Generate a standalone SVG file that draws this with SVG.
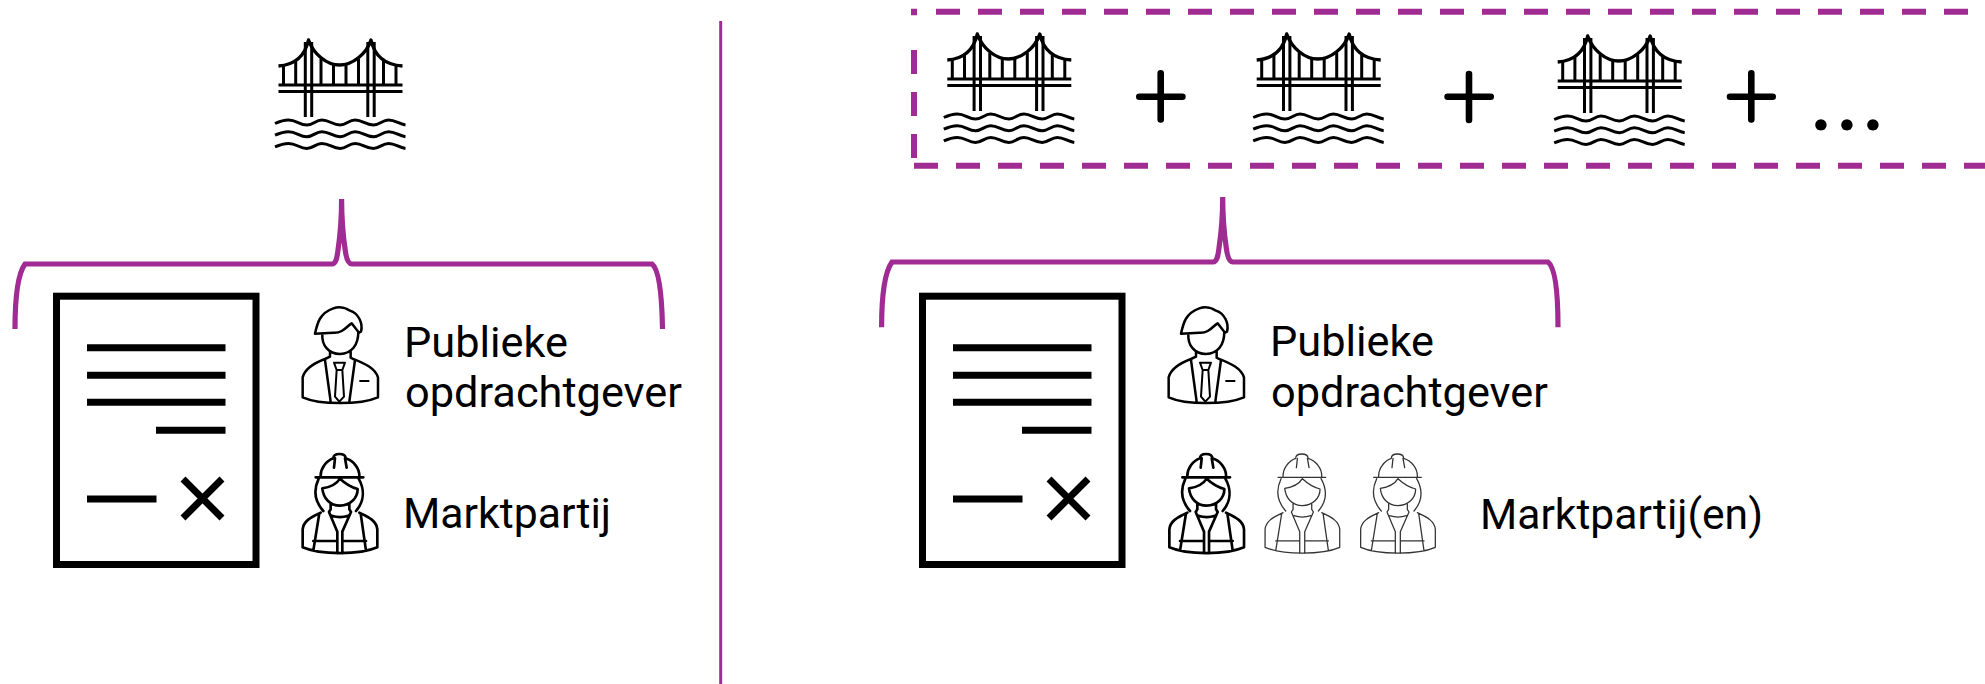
<svg xmlns="http://www.w3.org/2000/svg" xmlns:xlink="http://www.w3.org/1999/xlink" width="1985" height="684" viewBox="0 0 1985 684">
<style>
.ln{fill:none;stroke:#000;stroke-linejoin:round;stroke-linecap:butt}
.br{stroke-width:3}
.wv{stroke-width:3;fill:none;stroke:#000}
.pu{fill:none;stroke:#A02B93}
.pl{fill:none;stroke:#000;stroke-width:6.6;stroke-linecap:round}
.bar{fill:none;stroke:#000;stroke-width:7}
.t{font-family:Roboto,"Liberation Sans",sans-serif;font-size:42px;fill:#000}
.wk{fill:none;stroke-linejoin:round;stroke-linecap:round}
</style>
<defs>
<path id="wave" class="wv" d="M-33.500 83.500C-28 81-25 80-20 80C-12 80-9 85-1.700 85C5 85 7 80 13.300 80C21 80 24 85 31.700 85C38 85 40 80 46.700 80C54 80 57 85 65 85C71 85 74 80 80 80C87 80 90 84 97 85"/>
<g id="bridge">
<path class="ln" stroke-width="3.400" stroke-linejoin="miter" d="M-30 26C-16 25-4 18 0 0C5 14 18 25 31 25C44 25 58 14 62.500 0C66.500 18 78 25 94 26"/>
<path class="ln br" d="M-3.200 2V77M3.200 2V77M59.300 2V77M65.700 2V77M-25 26V45M-12.800 21V45M12.500 19V45M25 25V45M37.500 25V45M50 19V45M75 21V45M87.500 26V45"/>
<path class="ln br" d="M-30 45H94M-30 51.500H94"/>
<use xlink:href="#wave" href="#wave"/>
<use xlink:href="#wave" href="#wave" y="11.700"/>
<use xlink:href="#wave" href="#wave" y="23.400"/>
</g>
<g id="man" transform="scale(.3333)">
<path class="ln" stroke-width="7.500" d="M105 131C112 100 118 70 160 55C180 48 200 55 210 62C235 70 250 100 243 125L237 128L215 100C200 108 190 130 160 128Z"/>
<path class="ln" stroke-width="7.500" d="M127 133C125 165 145 192 180 192C215 192 235 165 235 125M150 180V200L135 207M212 183V203L225 210M135 207C100 220 75 235 68 262V322C120 345 240 345 294 322V262C285 235 255 220 215 205M135 210L152 335M225 210L208 335"/>
<path class="ln" stroke-width="6" d="M162 218H195L187 240H170ZM170 240L165 320L178 335L192 320L187 240"/>
<path class="ln" stroke-width="6" d="M238 273H268"/>
</g>
<g id="worker" transform="scale(.3333)">
<path d="M107 112H250M122 112C120 85 140 62 160 55C160 45 170 42 178 42C188 42 197 45 197 55C220 62 240 85 238 112M165 55L162 83M195 55L200 83M116 116C100 150 105 185 130 213M236 116C255 150 252 185 228 213M127 145C150 142 170 132 180 116C195 130 215 142 233 147C233 175 210 197 180 197C150 197 130 175 127 145ZM152 192V208L147 216M208 192V208L213 216M155 227C170 232 190 232 205 227M122 218C90 232 70 245 68 268V322C120 345 240 345 292 322V268C290 245 270 232 238 218M118 220L100 332M242 220L258 332M147 216L172 275V340M213 216L187 275V340M100 303H172M187 303H258"/>
</g>
<g id="doc">
<rect x="56.500" y="296.200" width="199.500" height="268.300" fill="none" stroke="#000" stroke-width="7"/>
<path class="bar" d="M87 347.700H225.500M87 375.300H225.500M87 402.300H225.500M156 430.300H225.500M87 499H156.500M183 479L222 518M222 479L183 518"/>
</g>
</defs>
<g id="connectors">
<path id="divider" class="pu" stroke-width="3" d="M720.700 21V684"/>
<path id="brace-left" class="pu" stroke-width="5.200" d="M15 329C15 300 17 275 25 264H332C336 264 337 258 338 250C339.500 240 341.600 222 341.600 199C341.600 222 343.700 240 345.200 250C346.200 258 348 264 352 264H652C660 270 662 300 662.500 329"/>
<path id="brace-right" class="pu" stroke-width="5.200" d="M881.600 327.300C881.600 298 884 273 892 262H1213C1217 262 1218 256 1219 248C1220.500 238 1222.700 220 1222.700 197C1222.700 220 1224.800 238 1226.300 248C1227.300 256 1229 262 1233 262H1548C1556 268 1558 298 1558 327.300"/>
</g>
<g id="series-box">
<path class="pu" stroke-width="6" d="M914 15.300V8.700M911 11.700H917"/>
<path class="pu" stroke-width="6" stroke-dasharray="24 18" d="M914 50V158"/>
<path class="pu" stroke-width="6" stroke-dasharray="24 18" d="M936 11.700H1985"/>
<path class="pu" stroke-width="6" stroke-dasharray="24 18" d="M914 165.700H1985"/>
</g>
<g id="bridge-single"><use xlink:href="#bridge" href="#bridge" x="308.500" y="40"/></g>
<g id="bridge-1"><use xlink:href="#bridge" href="#bridge" x="977.300" y="34"/></g>
<g id="plus-1"><path class="pl" d="M1139.300 96.700H1182.400M1160.700 73.300V119.400"/></g>
<g id="bridge-2"><use xlink:href="#bridge" href="#bridge" x="1286.700" y="34"/></g>
<g id="plus-2"><path class="pl" d="M1447.600 96.700H1490.700M1469 74V120"/></g>
<g id="bridge-3"><use xlink:href="#bridge" href="#bridge" x="1587.700" y="36"/></g>
<g id="plus-3"><path class="pl" d="M1730 96.700H1772.700M1751.300 73.300V119.400"/></g>
<g id="ellipsis"><text x="1812 1838 1864" y="129.500" style="font-family:Lato,sans-serif;font-size:75px;font-weight:700">...</text></g>
<g id="contract-left"><use xlink:href="#doc" href="#doc"/></g>
<g id="client-left">
<use xlink:href="#man" href="#man" transform="translate(280 290)" fill="none"/>
<text class="t" x="404" y="356.700" textLength="164" lengthAdjust="spacingAndGlyphs">Publieke</text>
<text class="t" x="405" y="407.300" textLength="277" lengthAdjust="spacingAndGlyphs">opdrachtgever</text>
</g>
<g id="contractor-left">
<use xlink:href="#worker" href="#worker" class="wk" transform="translate(280 440)" stroke="#000" stroke-width="8"/>
<text class="t" x="403" y="528" textLength="208" lengthAdjust="spacingAndGlyphs">Marktpartij</text>
</g>
<g id="contract-right"><use xlink:href="#doc" href="#doc" x="866"/></g>
<g id="client-right">
<use xlink:href="#man" href="#man" transform="translate(1146 290)" fill="none"/>
<text class="t" x="1270" y="355.700" textLength="164" lengthAdjust="spacingAndGlyphs">Publieke</text>
<text class="t" x="1271" y="406.700" textLength="277" lengthAdjust="spacingAndGlyphs">opdrachtgever</text>
</g>
<g id="contractors-right">
<use xlink:href="#worker" href="#worker" class="wk" transform="translate(1146.700 440)" stroke="#000" stroke-width="8"/>
<use xlink:href="#worker" href="#worker" class="wk" transform="translate(1242.400 440)" stroke="#333" stroke-width="3.800"/>
<use xlink:href="#worker" href="#worker" class="wk" transform="translate(1338 440)" stroke="#333" stroke-width="3.800"/>
<text class="t" x="1480" y="529.300" textLength="283" lengthAdjust="spacingAndGlyphs">Marktpartij(en)</text>
</g>
</svg>
